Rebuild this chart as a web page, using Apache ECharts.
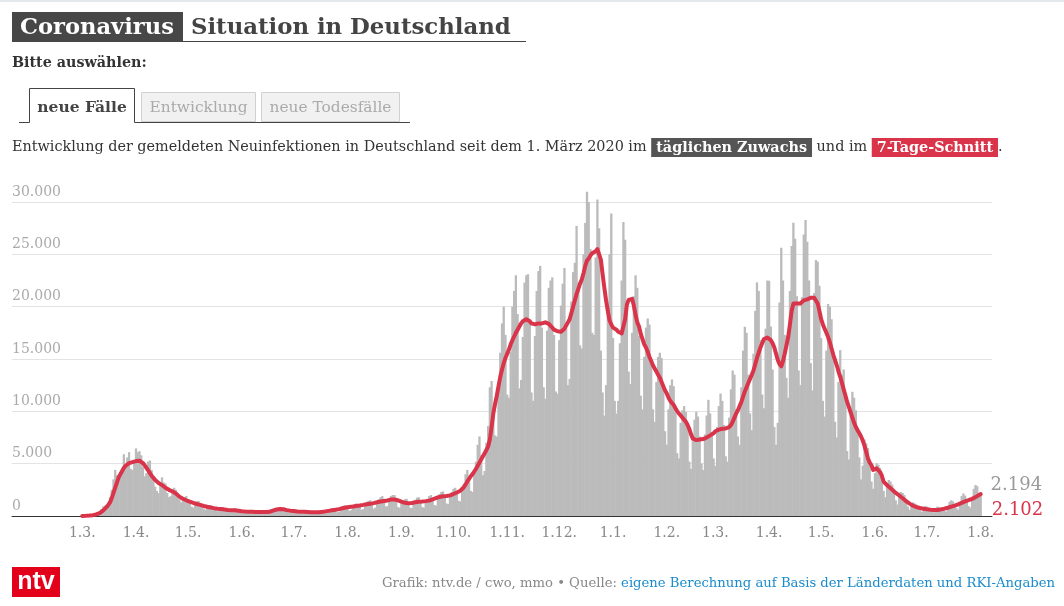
<!DOCTYPE html>
<html>
<head>
<meta charset="utf-8">
<script src="https://cdn.jsdelivr.net/npm/echarts/dist/echarts.min.js"></script>
<style>
html,body{margin:0;padding:0;background:#fff;}
#chart{width:1064px;height:606px;}
</style>
</head>
<body>
<div id="chart"></div>
<script>
// ---- axis definition ----
const axisStart = '2020-01-21';   // first category of the x axis
const axisDays = 565;             // number of daily categories on the x axis
const dataStart = '2020-03-01';   // first day with data
const yTicks = [0, 5000, 10000, 15000, 20000, 25000, 30000];

// ---- daily new infections (weeks Sun..Sat, starting Sun 1.3.2020) ----
const dailyCases = [
  20, 30, 40, 60, 90, 120, 160,            // 1.3.
  170, 200, 330, 450, 650, 900, 1000,
  1050, 1300, 1800, 2500, 3500, 4400, 3900,
  3300, 4200, 4600, 5900, 5000, 5600, 6100,
  4500, 4400, 5200, 6460, 6100, 6200, 5800, // 29.3.
  4700, 3800, 4100, 5200, 5300, 4400, 3700,
  2800, 2400, 2200, 2900, 3700, 3200, 3100,
  2200, 1800, 1900, 2400, 2700, 2500, 2100,
  1600, 1300, 1500, 1800, 1900, 1600, 1400, // 26.4.
  900, 800, 1100, 1400, 1450, 1250, 1000,
  700, 600, 850, 1000, 1050, 900, 800,
  550, 450, 650, 800, 850, 700, 600,
  450, 400, 450, 600, 750, 650, 500,
  350, 300, 300, 450, 550, 500, 400,        // 31.5.
  250, 250, 350, 450, 500, 480, 380,
  250, 200, 350, 450, 650, 700, 600,
  550, 500, 600, 750, 800, 700, 550,
  350, 300, 450, 550, 550, 500, 400,        // 28.6.
  250, 250, 400, 450, 500, 450, 350,
  200, 200, 350, 450, 500, 500, 400,
  250, 250, 450, 600, 700, 750, 600,
  350, 400, 650, 900, 1000, 1000, 850,      // 26.7.
  500, 550, 850, 1100, 1200, 1150, 950,
  600, 650, 1050, 1350, 1450, 1500, 1200,
  700, 800, 1300, 1600, 1800, 1900, 1450,
  900, 950, 1500, 1900, 2000, 2000, 1600,
  850, 800, 1250, 1400, 1600, 1650, 1300,   // 30.8.
  800, 750, 1200, 1550, 1750, 1800, 1450,
  850, 800, 1350, 1650, 1900, 2000, 1600,
  1050, 1000, 1700, 2100, 2300, 2350, 1900,
  1200, 1150, 1850, 2300, 2600, 2700, 2200, // 27.9.
  1450, 1400, 2400, 3100, 4000, 4400, 3800,
  2400, 2300, 4000, 5200, 6800, 7600, 5800,
  3900, 4300, 7000, 8600, 12300, 12900, 10200,
  7700, 7600, 12200, 15600, 18400, 20000, 17300, // 25.10.
  11600, 11300, 15700, 20000, 21500, 23000, 19300,
  12200, 13000, 17100, 22300, 23000, 23100, 18400,
  11800, 11000, 17200, 21500, 23400, 23900, 18000,
  12300, 11200, 17700, 21800, 22500, 22800, 17300,
  11900, 11700, 16800, 20100, 22200, 23700, 18000, // 29.11.
  12500, 13100, 20500, 23300, 24200, 27700, 22300,
  16300, 16000, 25000, 28000, 30970, 30000, 25500,
  17500, 17300, 24700, 30240, 27500, 15800, 11800,
  9600, 12500, 19500, 25000, 28900, 17000, 11000,  // 27.12.
  9800, 11000, 16500, 22500, 28100, 26400, 20000,
  13800, 12600, 17500, 21000, 23000, 21800, 17200,
  11500, 10200, 15200, 18000, 18870, 18300, 14600,
  10200, 9000, 12800, 15200, 15600, 15100, 12400,
  8100, 6800, 10200, 12500, 13050, 12400, 9900,    // 31.1.
  6000, 5500, 8900, 10100, 10500, 9960, 8400,
  5200, 4500, 7600, 9200, 9960, 9500, 7600,
  5000, 4400, 7800, 9600, 11100, 9800, 8000,
  5500, 4800, 8500, 10500, 11700, 11000, 8700,     // 28.2.
  5700, 5200, 9400, 12100, 13900, 13500, 10200,
  7600, 6800, 12300, 15800, 18080, 17500, 13500,
  9800, 8200, 15500, 19600, 22320, 21500, 16800,
  11600, 10300, 17900, 22500, 22470, 18100, 14000, // 28.3.
  8500, 6800, 8900, 20400, 25620, 22500, 17300,
  13200, 11300, 21500, 25800, 28010, 26500, 21000,
  13900, 12500, 20900, 26900, 28270, 26200, 22500,
  14600, 12000, 21300, 24450, 24300, 22000, 17000, // 25.4.
  11000, 9500, 15800, 20250, 20000, 18800, 15000,
  9000, 7500, 12800, 15850, 13500, 14000, 11500,
  6200, 5400, 9600, 11870, 11300, 10100, 8400,
  5600, 3500, 4800, 7300, 6940, 6500, 5200,
  3300, 2600, 4100, 5030, 4900, 4600, 3700,        // 30.5.
  2400, 1800, 2900, 3440, 3300, 3000, 2400,
  1500, 1100, 1800, 2300, 2200, 2000, 1500,
  900, 600, 1100, 1300, 1200, 1100, 900,
  550, 400, 750, 950, 900, 800, 650,               // 27.6.
  450, 350, 600, 900, 850, 800, 650,
  520, 420, 900, 1350, 1500, 1400, 1000,
  750, 600, 1350, 1900, 2150, 1950, 1450,
  950, 800, 1800, 2600, 2960, 2850, 2100,          // 25.7.
  2194                                              // 1.8.2021
];

// ---- 7-day average ----
const sevenDayAvg = [
  10, 15, 20, 30, 45, 60, 80,
  110, 150, 200, 280, 380, 520, 700,
  850, 1050, 1300, 1700, 2200, 2700, 3200,
  3700, 4000, 4300, 4600, 4800, 4950, 5050,
  5100, 5150, 5200, 5250, 5300, 5280, 5200,
  5050, 4850, 4600, 4350, 4100, 3850, 3650,
  3450, 3300, 3150, 3050, 2950, 2800, 2700,
  2600, 2500, 2420, 2350, 2250, 2150, 2000,
  1850, 1750, 1650, 1580, 1500, 1430, 1370,
  1300, 1250, 1200, 1150, 1100, 1060, 1000,
  960, 920, 880, 840, 810, 780, 750,
  720, 700, 680, 660, 640, 620, 600,
  580, 570, 560, 550, 540, 520, 500,
  480, 460, 440, 430, 420, 410, 400,
  395, 390, 385, 380, 380, 385, 390,
  385, 380, 380, 400, 450, 520, 580,
  620, 650, 670, 660, 640, 600, 560,
  530, 510, 490, 470, 450, 430, 420,
  410, 400, 395, 390, 380, 370, 360,
  355, 350, 350, 355, 370, 390, 410,
  430, 460, 490, 520, 550, 570, 590,
  620, 660, 700, 740, 780, 810, 840,
  860, 880, 900, 920, 950, 980, 1000,
  1030, 1060, 1100, 1130, 1160, 1180, 1200,
  1230, 1270, 1310, 1350, 1390, 1420, 1440,
  1460, 1490, 1530, 1570, 1590, 1580, 1550,
  1500, 1440, 1370, 1310, 1260, 1230, 1220,
  1230, 1250, 1280, 1310, 1340, 1360, 1370,
  1380, 1400, 1420, 1440, 1470, 1520, 1580,
  1650, 1720, 1780, 1820, 1850, 1880, 1900,
  1910, 1930, 1970, 2020, 2100, 2180, 2250,
  2330, 2420, 2550, 2750, 3000, 3300, 3550,
  3800, 4000, 4250, 4500, 4800, 5100, 5400,
  5700, 6000, 6300, 6650, 7300, 8500, 9800,
  10700, 11500, 12400, 13300, 14000, 14600, 15100,
  15500, 15900, 16400, 16800, 17150, 17500, 17800,
  18100, 18400, 18600, 18700, 18800, 18750, 18600,
  18400, 18300, 18300, 18350, 18400, 18400, 18400,
  18450, 18500, 18400, 18350, 18200, 18000, 17800,
  17700, 17650, 17600, 17600, 17700, 17900, 18200,
  18500, 18800, 19400, 20000, 20600, 21200, 21700,
  22200, 22600, 23200, 23900, 24400, 24600, 24900,
  25100, 25200, 25300, 25500, 25600, 24500, 23100,
  21800, 20600, 19600, 18700, 18300, 18000, 17900,
  17800, 17600, 17500, 17450, 17500, 18800, 20200,
  20650, 20800, 20750, 20100, 19200, 18500, 18100,
  17400, 16900, 16400, 16100, 15700, 15200, 14800,
  14400, 14100, 13800, 13500, 13200, 12800, 12400,
  12000, 11700, 11300, 11000, 10800, 10600, 10300,
  10000, 9800, 9600, 9400, 9200, 9000, 8700,
  8300, 7800, 7400, 7250, 7250, 7300, 7300,
  7300, 7350, 7400, 7500, 7600, 7700, 7800,
  7900, 8100, 8200, 8250, 8300, 8330, 8350,
  8370, 8400, 8500, 8700, 9000, 9400, 9800,
  10100, 10500, 10900, 11400, 11900, 12300, 12700,
  13100, 13500, 13900, 14500, 15100, 15600, 16100,
  16500, 16900, 17000, 17050, 17000, 16800, 16500,
  16100, 15500, 14900, 14500, 14300, 14800, 15500,
  16300, 17100, 18300, 19600, 20300, 20300, 20300,
  20300, 20300, 20400, 20600, 20700, 20700, 20800,
  20850, 20900, 20850, 20700, 20300, 19600, 18800,
  18300, 17900, 17500, 17100, 16600, 16000, 15400,
  14900, 14400, 13800, 13300, 12700, 12100, 11500,
  10900, 10400, 9900, 9400, 8900, 8500, 8200,
  7900, 7600, 7200, 6700, 6100, 5500, 5100,
  4850, 4400, 4450, 4550, 4500, 4200, 3850,
  3300, 3100, 2950, 2800, 2650, 2500, 2350,
  2200, 2080, 1960, 1840, 1700, 1560, 1420,
  1300, 1180, 1070, 980, 910, 850, 800,
  760, 730, 700, 670, 640, 610, 590,
  575, 570, 570, 580, 600, 630, 660,
  700, 740, 790, 840, 890, 940, 990,
  1050, 1110, 1180, 1250, 1320, 1390, 1450,
  1510, 1570, 1640, 1710, 1800, 1900, 2000,
  2102
];

// ---- colours / fonts ----
const SERIF = '"DejaVu Serif", serif';
const RED = '#d9344a';
const BAR = '#bbbbbb';

function fmt(v) { return String(v).replace(/\B(?=(\d{3})+(?!\d))/g, '.'); }
function dayMs(s) { const p = s.split('-').map(Number); return Date.UTC(p[0], p[1] - 1, p[2]); }

const DAY = 86400000;
const categories = [];
for (let i = 0; i < axisDays; i++) {
  const d = new Date(dayMs(axisStart) + i * DAY);
  categories.push(d.toISOString().slice(0, 10));
}
const offset = Math.round((dayMs(dataStart) - dayMs(axisStart)) / DAY);

const barData = [];
const lineData = [];
for (let i = 0; i < axisDays; i++) {
  const k = i - offset;
  if (k >= 0 && k < dailyCases.length) {
    if (k === dailyCases.length - 1) {
      barData.push({
        value: dailyCases[k],
        label: {
          show: true, position: [11, -8], align: 'left', verticalAlign: 'middle',
          formatter: p => fmt(p.value), color: '#9a9a9a', fontSize: 18, fontFamily: SERIF
        }
      });
    } else {
      barData.push(dailyCases[k]);
    }
  } else barData.push(null);
  lineData.push(k >= 0 && k < sevenDayAvg.length ? sevenDayAvg[k] : null);
}
const labelStartIdx = offset;

const chart = echarts.init(document.getElementById('chart'), null, { renderer: 'canvas' });

const option = {
  animation: false,
  backgroundColor: '#fff',
  grid: { left: 12, right: 72, top: 202, bottom: 90, containLabel: false, outerBoundsMode: 'none' },
  xAxis: {
    type: 'category',
    data: categories,
    boundaryGap: true,
    axisLine: { show: true, lineStyle: { color: '#333', width: 1 } },
    axisTick: { show: false },
    axisLabel: {
      interval: (idx, val) => idx >= labelStartIdx && val.slice(8, 10) === '01',
      formatter: val => Number(val.slice(8, 10)) + '.' + Number(val.slice(5, 7)) + '.',
      color: '#888', fontSize: 14, fontFamily: SERIF, margin: 10, hideOverlap: false
    },
    splitLine: { show: false }
  },
  yAxis: {
    type: 'value',
    min: yTicks[0],
    max: yTicks[yTicks.length - 1],
    interval: yTicks[1] - yTicks[0],
    axisLine: { show: false },
    axisTick: { show: false },
    axisLabel: {
      inside: true, margin: 0, align: 'left', verticalAlign: 'bottom',
      padding: [0, 0, 3, 0],
      formatter: v => fmt(v), color: '#aaa', fontSize: 14, fontFamily: SERIF
    },
    splitLine: { show: true, lineStyle: { color: '#e3e3e3', width: 1 } }
  },
  series: [
    {
      type: 'bar',
      data: barData,
      barWidth: 2.3,
      clip: false,
      itemStyle: { color: BAR },
      silent: true,
      z: 2
    },
    {
      type: 'line',
      data: lineData,
      showSymbol: false,
      symbol: 'none',
      clip: false,
      connectNulls: false,
      lineStyle: { color: RED, width: 4, join: 'round', cap: 'round' },
      endLabel: {
        show: true, formatter: p => fmt(p.value), color: RED, fontSize: 18,
        fontFamily: SERIF, offset: [6, 16], distance: 5
      },
      silent: true,
      z: 3
    }
  ],
  graphic: [
    { type: 'rect', shape: { x: 0, y: 0, width: 1064, height: 2 }, style: { fill: '#e3e8ec' } },
    { type: 'rect', shape: { x: 12, y: 12, width: 171, height: 30 }, style: { fill: '#474747' } },
    { type: 'text', x: 20, y: 28, style: { text: 'Coronavirus', fill: '#fff', fontSize: 22.6, fontWeight: 'bold', fontFamily: SERIF, verticalAlign: 'middle' } },
    { type: 'text', x: 191, y: 28, style: { text: 'Situation in Deutschland', fill: '#444', fontSize: 22.8, fontWeight: 'bold', fontFamily: SERIF, verticalAlign: 'middle' } },
    { type: 'line', shape: { x1: 183, y1: 41.5, x2: 526, y2: 41.5 }, style: { stroke: '#444', lineWidth: 1 } },
    { type: 'text', x: 12, y: 63.5, style: { text: 'Bitte auswählen:', fill: '#333', fontSize: 14.3, fontWeight: 'bold', fontFamily: SERIF, verticalAlign: 'middle' } },
    // tabs
    { type: 'rect', shape: { x: 141.5, y: 92.5, width: 114, height: 29 }, style: { fill: '#f1f1f1', stroke: '#d0d0d0', lineWidth: 1 } },
    { type: 'rect', shape: { x: 261.5, y: 92.5, width: 138, height: 29 }, style: { fill: '#f1f1f1', stroke: '#d0d0d0', lineWidth: 1 } },
    { type: 'polyline', shape: { points: [[19, 122.5], [29.5, 122.5], [29.5, 88.5], [134.5, 88.5], [134.5, 122.5], [410, 122.5]] }, style: { stroke: '#444', lineWidth: 1, fill: null } },
    { type: 'text', x: 82, y: 107.5, style: { text: 'neue Fälle', fill: '#444', fontSize: 15.5, fontWeight: 'bold', fontFamily: SERIF, align: 'center', verticalAlign: 'middle' } },
    { type: 'text', x: 198.5, y: 107.5, style: { text: 'Entwicklung', fill: '#aaa', fontSize: 15.4, fontFamily: SERIF, align: 'center', verticalAlign: 'middle' } },
    { type: 'text', x: 330.5, y: 107.5, style: { text: 'neue Todesfälle', fill: '#aaa', fontSize: 15.4, fontFamily: SERIF, align: 'center', verticalAlign: 'middle' } },
    // subtitle
    {
      type: 'text', x: 12, y: 147.5,
      style: {
        text: '{n|Entwicklung der gemeldeten Neuinfektionen in Deutschland seit dem 1. März 2020 im }{g|täglichen Zuwachs}{n| und im }{r|7-Tage-Schnitt}{n|.}',
        verticalAlign: 'middle', fontFamily: SERIF, fontSize: 14.4,
        rich: {
          n: { fill: '#333', fontSize: 14.4, fontFamily: SERIF },
          g: { fill: '#fff', fontSize: 14.4, fontWeight: 'bold', fontFamily: SERIF, backgroundColor: '#555', padding: [3, 5, 2, 5] },
          r: { fill: '#fff', fontSize: 14.4, fontWeight: 'bold', fontFamily: SERIF, backgroundColor: RED, padding: [3, 5, 2, 5] }
        }
      }
    },
    // logo
    { type: 'rect', shape: { x: 12, y: 567, width: 48, height: 30 }, style: { fill: '#e2001a' } },
    { type: 'text', x: 36, y: 582, style: { text: 'ntv', fill: '#fff', fontSize: 25, fontWeight: 'bold', fontFamily: '"Liberation Sans Narrow", "Liberation Sans", sans-serif', align: 'center', verticalAlign: 'middle' } },
    // footer
    {
      type: 'text', x: 1055, y: 584,
      style: {
        text: '{g|Grafik: ntv.de / cwo, mmo • Quelle: }{b|eigene Berechnung auf Basis der Länderdaten und RKI-Angaben}',
        align: 'right', verticalAlign: 'middle', fontFamily: SERIF, fontSize: 13.2,
        rich: {
          g: { fill: '#888', fontSize: 13.2, fontFamily: SERIF },
          b: { fill: '#1a8ccc', fontSize: 13.2, fontFamily: SERIF }
        }
      }
    }
  ]
};

chart.setOption(option);
</script>
</body>
</html>
